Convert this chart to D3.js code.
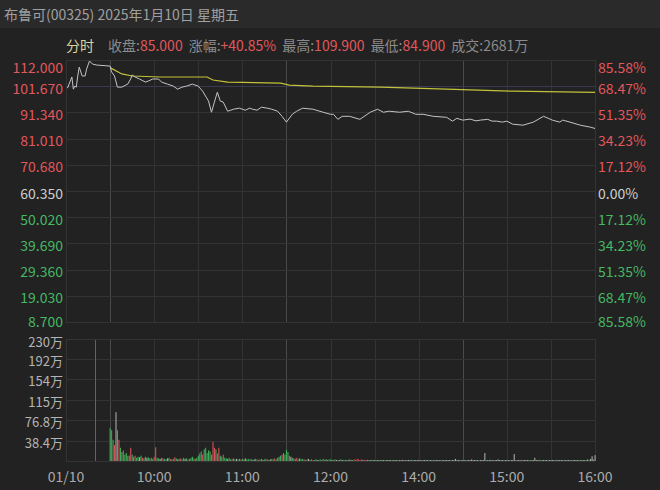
<!DOCTYPE html>
<html><head><meta charset="utf-8">
<script src="https://cdn.jsdelivr.net/npm/d3@7"></script>
<style>
html,body{margin:0;padding:0;background:#222222;}
svg{display:block;}
text{font-family:"Noto Sans CJK SC","Noto Sans",sans-serif;}
</style></head><body>
<svg id="c" width="660" height="490"></svg>
<script>
// ---------- data ----------
const title = "布鲁可(00325) 2025年1月10日 星期五";
const modeLabel = "分时";
const infoLabels = ["收盘:", "涨幅:", "最高:", "最低:", "成交:"];
const infoValues = ["85.000", "+40.85%", "109.900", "84.900", "2681万"];
const preClose = 60.35;
const priceTicks = [112.000, 101.670, 91.340, 81.010, 70.680, 60.350, 50.020, 39.690, 29.360, 19.030, 8.700];
const pctTicks = ["85.58%", "68.47%", "51.35%", "34.23%", "17.12%", "0.00%", "17.12%", "34.23%", "51.35%", "68.47%", "85.58%"];
const volTicks = [230, 192, 154, 115, 76.8, 38.4];
const volTickLabels = ["230万", "192万", "154万", "115万", "76.8万", "38.4万"];
const timeTicks = ["09:00", "10:00", "11:00", "12:00", "14:00", "15:00", "16:00"];
const timeTickLabels = ["01/10", "10:00", "11:00", "12:00", "14:00", "15:00", "16:00"];

const priceTimes = ["09:01","09:04","09:05","09:06","09:07","09:08","09:09","09:11","09:13","09:14","09:16","09:18","09:21","09:30",
  "09:31","09:33","09:35","09:38","09:42","09:44","09:45","09:47","09:50","09:54","09:56","09:59",
  "10:03","10:05","10:09","10:13","10:16","10:19","10:22","10:26","10:30","10:33","10:37","10:39","10:41","10:43","10:45","10:47","10:50","10:54","10:58",
  "11:02","11:05","11:07","11:10","11:13","11:17","11:20","11:24","11:27","11:30","11:34","11:37","11:41","11:48","11:55","12:00",
  "13:02","13:05","13:08","13:13","13:20","13:27","13:32","13:36","13:40","13:47","13:53","13:58",
  "14:03","14:10","14:19","14:23","14:26","14:30","14:35","14:39","14:42","14:47","14:50","14:53","14:57",
  "15:00","15:04","15:11","15:18","15:25","15:31","15:36","15:38","15:43","15:50","15:57","16:00"];
const prices = [100.9,105.3,100.5,101.7,101.3,105.7,109.2,105.7,105.7,108.4,111.6,110.4,110.0,109.6,
  107.3,105.7,101.3,101.3,102.5,104.5,106.1,105.3,104.5,103.3,103.7,104.5,
  104.5,103.3,102.5,101.7,100.5,101.3,101.7,102.5,101.7,99.7,95.8,91.4,95.4,99.3,95.8,95.4,91.8,92.6,93.0,
  92.2,93.0,92.6,92.2,93.4,93.0,92.6,91.8,89.8,87.5,90.6,91.8,93.0,92.6,91.4,90.6,
  90.6,88.6,89.8,89.8,88.6,91.4,92.6,91.4,91.8,91.4,91.8,90.6,
  90.6,89.8,89.4,87.9,89.0,88.3,88.7,88.0,88.3,88.6,87.9,87.9,87.5,
  87.9,86.7,86.3,87.5,89.8,88.3,87.5,88.3,87.5,86.3,85.5,85.0];

const avgTimes = ["09:30","09:38","09:45","10:04","10:36","10:40","10:50","11:26","11:32","11:48","13:34","14:19","15:04","16:00"];
const avgPrices = [109.0,106.5,105.7,105.3,105.3,104.1,103.3,102.9,102.1,101.7,101.3,100.5,99.7,99.2];

const auctionTime = "09:20";
const auctionVol = 228;   // 万
// per-minute volume (万) from 09:30 (13:00 after lunch), last = 16:00 close
const volumes = [
  62,58,40,30,92,58,40,25,17,20,12,15,10,10,25,12,8,10,6,8,7,10,6,5,8,6,7,5,6,4,
  8,26,6,5,4,6,5,4,3,5,6,4,3,4,7,5,3,4,5,3,6,4,5,3,4,6,8,5,4,6,
  10,14,18,12,22,25,15,20,18,12,36,25,22,14,25,10,8,12,6,5,4,6,3,4,5,3,4,3,4,3,
  4,3,5,3,4,3,4,2,3,4,3,2,3,4,2,3,4,3,2,3,4,3,5,3,6,8,10,12,15,12,
  21,17,10,8,6,5,4,6,3,5,3,4,3,2,3,4,2,3,2,2,3,2,2,3,2,4,2,3,2,3,
  3,2,2,3,2,1,2,3,2,2,1,2,2,3,2,1,3,2,4,3,2,3,2,1,2,2,1,2,2,1,
  1,2,1,1,2,1,1,2,1,1,1,1,2,1,1,1,2,1,1,1,1,2,1,1,1,1,2,1,1,1,
  1,1,2,1,1,1,1,2,1,1,2,1,1,1,1,2,1,1,1,1,1,1,2,1,1,4,1,1,1,2,
  1,1,2,1,1,1,3,1,1,1,1,2,1,1,1,15,2,1,1,1,1,2,1,1,3,1,1,1,2,1,
  1,1,2,1,1,13,2,1,1,1,2,1,1,1,1,1,2,1,1,6,1,1,1,2,1,1,1,1,2,1,
  1,1,1,2,1,1,1,1,1,2,1,1,1,1,2,1,1,1,1,1,2,1,1,1,2,3,2,4,9,3,11];
const volDirs = (
  "grgrwgrggrggrgrggrggwgrggwgrgg" +
  "rrggwgrggwgrggrgwgrggwgrgggrgg" +
  "gggrgggggrrrgrrggrggwggrggwggr" +
  "ggwggrggwggrggwgrggwggrggggrgg" +
  "ggrwgrgrgwggrggwggrggwggrggwgg" +
  "gwggwgwgwgwgwgwgrrrrrrwrrwgwgw" +
  "wgwwgwwgwwwwgwwwgwwwwgwwwwgwww" +
  "wwgwwwwgwwgwwwwgwwwwwwgwwwwwwg" +
  "wwgwwwwwwwwgwwwwgwwwwgwwwwwwgw" +
  "wwgwwwgwwwgwwwwwgwwwwwwgwwwwgw" +
  "wwwgwwwwwgwwwwgwwwwwgwwwgwgwwgw").split("");

// ---------- layout ----------
const svg = d3.select("#c");
const L = 66, R = 595;
const pTop = 60, pBot = 322, vTop = 339, vBot = 461;
const red = "#e0575c", green = "#45b862", grid = "#333333", gridHi = "#4a4a4a";
const FS = 14;

function toT(s) {
  const [h, m] = s.split(":").map(Number);
  let t = h * 60 + m - 540;
  if (t >= 240) t -= 60;
  return t;
}
function volTime(i) {
  const base = i < 150 ? 570 + i : 780 + (i - 150);
  const h = Math.floor(base / 60), m = base % 60;
  return String(h).padStart(2, "0") + ":" + String(m).padStart(2, "0");
}

const x = d3.scaleLinear().domain([0, 360]).range([L, R]);
const y = d3.scaleLinear().domain([8.7, 112]).range([pBot, pTop]);
const yv = d3.scaleLinear().domain([0, 230]).range([vBot, vTop]);

// backgrounds
svg.append("rect").attr("width", 660).attr("height", 490).attr("fill", "#222222");
svg.append("rect").attr("width", 660).attr("height", 28).attr("fill", "#2a2a2a");

// header
svg.append("text").attr("x", 4).attr("y", 14).attr("dominant-baseline", "central")
  .attr("font-size", FS).attr("fill", "#a0a0a0").text(title);
const info = svg.append("text").attr("x", 66).attr("y", 45).attr("dominant-baseline", "central")
  .attr("font-size", FS);
info.append("tspan").attr("fill", "#d9d49c").text(modeLabel);
infoLabels.forEach((lab, i) => {
  info.append("tspan").attr("fill", "#8c8c8c").attr("dx", i === 0 ? 14 : 6).text(lab);
  info.append("tspan").attr("fill", i === 4 ? "#8c8c8c" : red).text(infoValues[i]);
});

// vertical grid
const vt = d3.range(0, 361, 30);
const hiT = [30, 150, 270];
[[pTop, pBot], [vTop, vBot]].forEach(([a, b]) => {
  svg.append("g").selectAll("line").data(vt).join("line")
    .attr("x1", d => Math.round(x(d)) + 0.5).attr("x2", d => Math.round(x(d)) + 0.5)
    .attr("y1", a).attr("y2", b)
    .attr("stroke", d => hiT.includes(d) ? gridHi : grid).attr("stroke-width", 1);
});

// horizontal grid (price)
svg.append("g").selectAll("line").data(priceTicks).join("line")
  .attr("x1", L).attr("x2", R)
  .attr("y1", d => Math.round(y(d)) + 0.5).attr("y2", d => Math.round(y(d)) + 0.5)
  .attr("stroke", (d, i) => i === 1 ? "#393950" : grid);
// horizontal grid (volume)
svg.append("g").selectAll("line").data(volTicks.concat([0])).join("line")
  .attr("x1", L).attr("x2", R)
  .attr("y1", d => Math.round(yv(d)) + 0.5).attr("y2", d => Math.round(yv(d)) + 0.5)
  .attr("stroke", grid);

// left price labels
const n = priceTicks.length;
const labelY = (d, i) => i === 0 ? 67 : (i === n - 1 ? y(d) - 1.5 : y(d) + 1.5);
const colorFor = v => v > preClose + 1e-6 ? red : (v < preClose - 1e-6 ? green : "#cfcfcf");
svg.append("g").selectAll("text").data(priceTicks).join("text")
  .attr("x", 63).attr("y", labelY)
  .attr("text-anchor", "end").attr("dominant-baseline", "central")
  .attr("font-size", FS).attr("fill", colorFor)
  .text(d => d.toFixed(3));
// right pct labels
svg.append("g").selectAll("text").data(pctTicks).join("text")
  .attr("x", 598).attr("y", (d, i) => labelY(priceTicks[i], i))
  .attr("dominant-baseline", "central")
  .attr("font-size", FS).attr("fill", (d, i) => colorFor(priceTicks[i]))
  .text(d => d);
// volume labels
svg.append("g").selectAll("text").data(volTicks).join("text")
  .attr("x", 63).attr("y", (d, i) => i === 0 ? 341.5 : yv(d) + 1.5)
  .attr("text-anchor", "end").attr("dominant-baseline", "central")
  .attr("font-size", 13).attr("fill", "#b4b4b4")
  .text((d, i) => volTickLabels[i]);
// time labels
svg.append("g").selectAll("text").data(timeTicks).join("text")
  .attr("x", d => x(toT(d))).attr("y", 476)
  .attr("text-anchor", "middle").attr("dominant-baseline", "central")
  .attr("font-size", FS).attr("fill", "#aaaaaa")
  .text((d, i) => timeTickLabels[i]);

// volume bars
const dirColor = { r: "#d4525a", g: "#3fae5a", w: "#a8a8a8" };
svg.append("rect")
  .attr("x", Math.round(x(toT(auctionTime)))).attr("width", 1)
  .attr("y", yv(auctionVol)).attr("height", vBot - yv(auctionVol))
  .attr("fill", "#a8444a");
svg.append("g").selectAll("rect").data(volumes).join("rect")
  .attr("x", (d, i) => x(toT(volTime(i))) - 0.5).attr("width", 1.1)
  .attr("y", d => Math.min(yv(d), vBot - 1)).attr("height", d => Math.max(vBot - yv(d), 1))
  .attr("fill", (d, i) => dirColor[volDirs[i] || "w"]);

// avg line
svg.append("path")
  .datum(avgTimes.map((t, i) => [toT(t), avgPrices[i]]))
  .attr("fill", "none").attr("stroke", "#c2c23a").attr("stroke-width", 1.2)
  .attr("d", d3.line().x(d => x(d[0])).y(d => y(d[1])));
// price line
svg.append("path")
  .datum(priceTimes.map((t, i) => [toT(t), prices[i]]))
  .attr("fill", "none").attr("stroke", "#c4c4c4").attr("stroke-width", 1)
  .attr("d", d3.line().x(d => x(d[0])).y(d => y(d[1])));
</script>
</body></html>
